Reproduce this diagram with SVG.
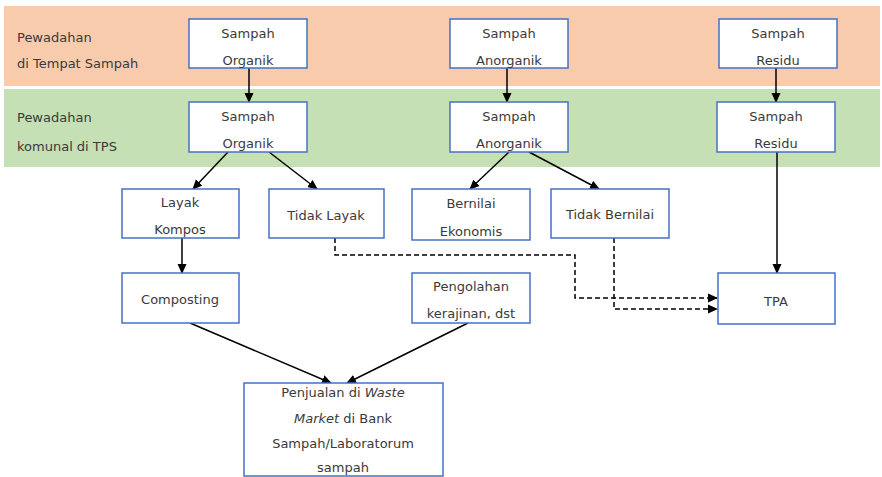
<svg xmlns="http://www.w3.org/2000/svg" width="882" height="477" viewBox="0 0 882 477">
<defs>
<style>
.box{fill:#fff;stroke:#4472C4;stroke-width:1.5}
.t{font-family:"DejaVu Sans","Liberation Sans",sans-serif;font-size:13px;fill:#3a3a3a;text-anchor:middle}
.l{font-family:"DejaVu Sans","Liberation Sans",sans-serif;font-size:13px;fill:#3a3a3a}
.c{stroke:#000;stroke-width:1.5;fill:none}
.d{stroke:#000;stroke-width:1.5;fill:none;stroke-dasharray:5,3}
</style>
<marker id="ah" markerUnits="userSpaceOnUse" markerWidth="10" markerHeight="10" viewBox="0 0 10 10" refX="9" refY="5" orient="auto">
<path d="M0,0.5 L10,5 L0,9.5 Z" fill="#000"/>
</marker>
</defs>
<rect width="882" height="477" fill="#fff"/>
<rect x="4" y="6" width="876" height="80" fill="#F8CBAD"/>
<rect x="4" y="89" width="876" height="78" fill="#C5E0B4"/>
<g id="lane1"><text class="l" x="17" y="42">Pewadahan</text><text class="l" x="17" y="68">di Tempat Sampah</text></g>
<g id="lane2"><text class="l" x="17" y="122">Pewadahan</text><text class="l" x="17" y="151">komunal di TPS</text></g>

<g id="connectors">
<line class="c" x1="249" y1="68" x2="249" y2="102" marker-end="url(#ah)"/>
<line class="c" x1="507" y1="68" x2="507" y2="102" marker-end="url(#ah)"/>
<line class="c" x1="776" y1="68" x2="776" y2="102" marker-end="url(#ah)"/>
<line class="c" x1="228" y1="152" x2="193" y2="189" marker-end="url(#ah)"/>
<line class="c" x1="269" y1="152" x2="317" y2="189" marker-end="url(#ah)"/>
<line class="c" x1="509" y1="152" x2="470" y2="189" marker-end="url(#ah)"/>
<line class="c" x1="529" y1="152" x2="599" y2="189" marker-end="url(#ah)"/>
<line class="c" x1="182" y1="238" x2="182" y2="273" marker-end="url(#ah)"/>
<line class="c" x1="777" y1="152" x2="777" y2="273" marker-end="url(#ah)"/>
<line class="c" x1="190" y1="323" x2="331" y2="383" marker-end="url(#ah)"/>
<line class="c" x1="468" y1="323" x2="347" y2="383" marker-end="url(#ah)"/>
<polyline class="d" points="335,238 335,255 575,255 575,298 717,298" marker-end="url(#ah)"/>
<polyline class="d" points="614,238 614,309 717,309" marker-end="url(#ah)"/>
</g>

<g id="n-org1"><rect class="box" x="189" y="19" width="118" height="49"/><text class="t" x="248" y="38">Sampah</text><text class="t" x="248" y="65">Organik</text></g>
<g id="n-anorg1"><rect class="box" x="450" y="19" width="118" height="49"/><text class="t" x="509" y="38">Sampah</text><text class="t" x="509" y="65">Anorganik</text></g>
<g id="n-res1"><rect class="box" x="719" y="19" width="118" height="49"/><text class="t" x="778" y="38">Sampah</text><text class="t" x="778" y="65">Residu</text></g>

<g id="n-org2"><rect class="box" x="189" y="102" width="118" height="50"/><text class="t" x="248" y="121">Sampah</text><text class="t" x="248" y="148">Organik</text></g>
<g id="n-anorg2"><rect class="box" x="450" y="102" width="118" height="50"/><text class="t" x="509" y="121">Sampah</text><text class="t" x="509" y="148">Anorganik</text></g>
<g id="n-res2"><rect class="box" x="717" y="102" width="118" height="50"/><text class="t" x="776" y="121">Sampah</text><text class="t" x="776" y="148">Residu</text></g>

<g id="n-layak"><rect class="box" x="122" y="189" width="117" height="49"/><text class="t" x="180" y="207">Layak</text><text class="t" x="180" y="234">Kompos</text></g>
<g id="n-tidaklayak"><rect class="box" x="269" y="189" width="115" height="49"/><text class="t" x="326" y="220">Tidak Layak</text></g>
<g id="n-bernilai"><rect class="box" x="412" y="189" width="118" height="51"/><text class="t" x="471" y="208">Bernilai</text><text class="t" x="471" y="236">Ekonomis</text></g>
<g id="n-tidakbernilai"><rect class="box" x="551" y="189" width="118" height="49"/><text class="t" x="610" y="219">Tidak Bernilai</text></g>

<g id="n-composting"><rect class="box" x="122" y="273" width="117" height="50"/><text class="t" x="180" y="304">Composting</text></g>
<g id="n-pengolahan"><rect class="box" x="412" y="273" width="118" height="50"/><text class="t" x="471" y="291">Pengolahan</text><text class="t" x="471" y="318">kerajinan, dst</text></g>
<g id="n-tpa"><rect class="box" x="718" y="273" width="117" height="51"/><text class="t" x="776" y="306">TPA</text></g>

<g id="n-penjualan"><rect class="box" x="244" y="383" width="199" height="93"/>
<text class="t" x="343" y="397">Penjualan di <tspan font-style="italic">Waste</tspan></text>
<text class="t" x="343" y="423"><tspan font-style="italic">Market</tspan> di Bank</text>
<text class="t" x="343" y="448">Sampah/Laboratorum</text>
<text class="t" x="343" y="472">sampah</text>
</g>
</svg>
